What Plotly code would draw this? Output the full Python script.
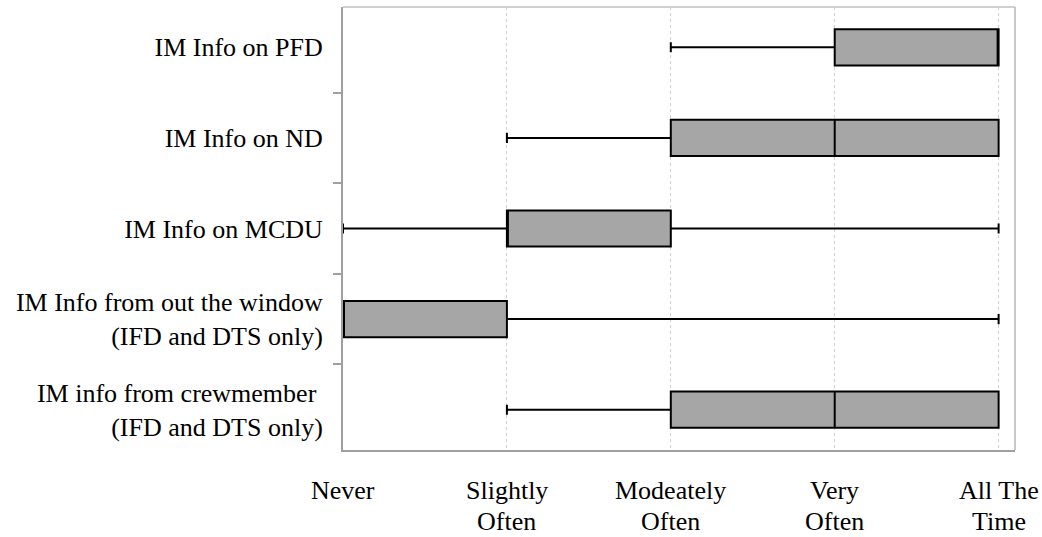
import plotly.graph_objects as go

# Survey categories (top to bottom) and their five-number summaries on a 0-4 frequency scale
categories = [
    "IM Info on PFD",
    "IM Info on ND",
    "IM Info on MCDU",
    "IM Info from out the window<br>(IFD and DTS only)",
    "IM info from crewmember\u00a0<br>(IFD and DTS only)",
]
lower_fence = [2, 1, 0, 0, 1]
q1_values = [3, 2, 1, 0, 2]
median_values = [4, 3, 1, 0, 3]
q3_values = [4, 4, 2, 1, 4]
upper_fence = [4, 4, 4, 4, 4]

# Frequency scale: each label split into its stacked lines
scale_values = [0, 1, 2, 3, 4]
scale_lines = [
    ["Never"],
    ["Slightly", "Often"],
    ["Modeately", "Often"],
    ["Very", "Often"],
    ["All The", "Time"],
]

fig = go.Figure()
fig.add_trace(go.Box(
    y=categories,
    q1=q1_values,
    median=median_values,
    q3=q3_values,
    lowerfence=lower_fence,
    upperfence=upper_fence,
    orientation="h",
    width=0.4,
    whiskerwidth=0.28,
    fillcolor="#a6a6a6",
    line=dict(color="black", width=2),
    boxpoints=False,
    showlegend=False,
))

# x tick labels written line by line for a tighter line pitch
label_annotations = []
for value, lines in zip(scale_values, scale_lines):
    for i, line in enumerate(lines):
        label_annotations.append(dict(
            x=value, xref="x", y=0, yref="paper",
            text=line, showarrow=False,
            xanchor="center", yanchor="middle",
            yshift=-40 - 31 * i,
            font=dict(family="Liberation Serif", size=26, color="black"),
        ))

fig.update_layout(
    width=1042,
    height=537,
    margin=dict(l=343, r=27, t=7, b=87),
    paper_bgcolor="white",
    plot_bgcolor="white",
    font=dict(family="Liberation Serif", size=26, color="black"),
    xaxis=dict(
        range=[0, 4.1],
        tickmode="array",
        tickvals=scale_values,
        showticklabels=False,
        showgrid=True,
        gridcolor="#cfcfcf",
        griddash="dot",
        gridwidth=1,
        zeroline=False,
        showline=True,
        linecolor="#a0a0a0",
        linewidth=2,
        mirror=False,
        ticks="",
        automargin=False,
    ),
    yaxis=dict(
        type="category",
        categoryorder="array",
        categoryarray=categories[::-1],
        tickson="boundaries",
        ticks="outside",
        ticklen=8,
        tickwidth=2,
        tickcolor="#a0a0a0",
        showgrid=False,
        zeroline=False,
        showline=True,
        linecolor="#a0a0a0",
        linewidth=2,
        ticklabelstandoff=13,
        automargin=False,
    ),
    annotations=label_annotations,
    shapes=[
        # light frame along the top and right edges of the plot area
        dict(type="line", xref="paper", yref="paper", x0=0, x1=1, y0=1, y1=1,
             line=dict(color="#d0d0d0", width=2)),
        dict(type="line", xref="paper", yref="paper", x0=1, x1=1, y0=0, y1=1,
             line=dict(color="#c8c8c8", width=2)),
    ],
)

fig.write_html("out.html")
